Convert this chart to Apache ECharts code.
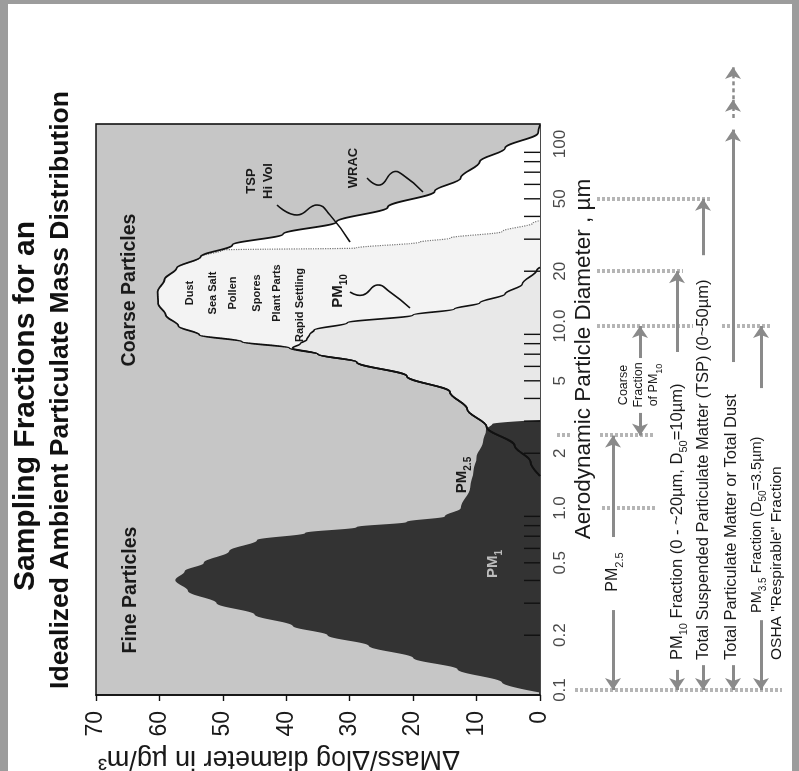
<!DOCTYPE html>
<html>
<head>
<meta charset="utf-8">
<script src="https://cdn.jsdelivr.net/npm/echarts@6/dist/echarts.min.js"></script>
<style>
html,body{margin:0;padding:0;background:#fff;overflow:hidden;width:799px;height:771px}
#wrap{position:absolute;left:0;top:0;width:771px;height:799px;transform-origin:0 0;transform:translate(0,771px) rotate(-90deg)}
#chart{width:771px;height:799px}
</style>
</head>
<body>
<div id="wrap"><div id="chart"></div></div>
<script>
// ---------------- DATA (diameter in µm, mass in µg/m3) ----------------
const diameterTicks = [0.1, 0.2, 0.5, 1.0, 2, 5, 10, 20, 50, 100];
const diameterTickLabels = ['0.1', '0.2', '0.5', '1.0', '2', '5', '10.0', '20', '50', '100'];
const minorTicks = [0.2,0.3,0.4,0.5,0.6,0.7,0.8,0.9,2,3,4,5,6,7,8,9,20,30,40,50,60,70,80,90];
const massTicks = [0, 10, 20, 30, 40, 50, 60, 70];

// fine mode (PM2.5 fraction, dark)
const fineMode = [[0.097,0],[0.11,6],[0.13,13],[0.15,20],[0.175,27],[0.2,33.5],[0.225,39],[0.26,45],[0.3,51],[0.35,55.5],[0.402,57.5],[0.45,56],[0.5,53],[0.58,49],[0.667,44.6],[0.73,37],[0.786,28.9],[0.84,21],[0.9,15],[1.0,12.5],[1.3,11],[1.6,10.5],[1.9,10],[2.3,9],[2.7,8.5],[2.9,7.5],[3.05,0]];
// coarse mode envelope
const coarseMode = [[1.5,0],[1.8,1.5],[2.2,4],[2.79,8.4],[3.5,11.5],[4.34,14.2],[5.3,21],[6.34,28.9],[7.0,35],[7.57,39.5],[8.2,47],[8.93,53.7],[10,57],[11.5,59],[13.3,60.2],[15.4,60.3],[18,59.2],[20.8,57.3],[24,53.5],[27.9,48.5],[32,40.5],[37.3,32.1],[45,24],[55,16.6],[65,12.5],[80,9.5],[95,5.5],[115,0.3],[128,0]];
// PM10 sampled fraction
const pm10Curve = [[1.5,0],[1.8,1.5],[2.2,4],[2.79,8.4],[3.5,11.5],[4.34,14.2],[5.3,21],[6.34,28.9],[7.0,35],[7.57,39],[8.0,37.8],[8.4,36.8],[9.0,36.3],[9.5,35.6],[10.4,30.4],[11.5,20],[12.4,13.5],[13.4,9.5],[15,5.5],[17,2.8],[20.3,0.5],[21,0]];
// TSP (Hi Vol) sampled fraction
const tspCurve = [[1.5,0],[1.8,1.5],[2.2,4],[2.79,8.4],[3.5,11.5],[4.34,14.2],[5.3,21],[6.34,28.9],[7.0,35],[7.57,39.5],[8.2,47],[8.93,53.7],[10,57],[11.5,59],[13.3,60.2],[15.4,60.3],[18,59.2],[20.8,57.3],[24,53.5],[26.2,50],[26.8,29],[28.9,19],[30.4,14.2],[33,6],[36.8,1.1],[38,0]];

// sampling-fraction arrows (from, to) in µm
const arrowsPM25 = [[0.275,0.1],[0.693,2.5]];
const arrowsCoarse = [[3.33,2.5],[6.67,10]];
const arrowsPM10 = [[0.129,0.1],[7.2,20]];
const arrowsTSP = [[0.137,0.1],[24.5,50]];
const arrowsDust = [[0.137,0.1],[6.34,120]];
const arrowsDustBeyond = [[139,175],[176,265]];
const arrowsPM35 = [[0.242,0.1],[4.56,10]];
const cutDiameters = [0.1, 1.0, 2.5, 2.5, 10, 10, 20, 50];

// ---------------- LAYOUT ----------------
const W = 771, H = 799;
const plot = {left:76, right:124, top:96, bottom:259};
const D_MIN = 0.0939, D_MAX = 128.8, D_MAX2 = 300;
const pxPerDecade = (W - plot.left - plot.right) / Math.log10(D_MAX / D_MIN);
const grid2 = {left:plot.left, right: W - plot.left - pxPerDecade*Math.log10(D_MAX2/D_MIN), top:550, bottom:9};
const rowY = {pm25:613, coarse:640, pm10:677, tsp:703, dust:733, pm35:761};
const cutSpans = [[575,782],[602,657],[557,570],[600,653],[597,693],[722,770],[597,683],[597,710]];

const SANS = "'Liberation Sans',Arial,Helvetica,sans-serif";

function arrowData(list, row){
  return list.map(p => ({coords:[[p[0], row],[p[1], row]]}));
}

const chart = echarts.init(document.getElementById('chart'), null, {width:W, height:H});

function lineArea(data, color, z){
  return {type:'line', xAxisIndex:0, yAxisIndex:0, data:data, smooth:0.35, smoothMonotone:'x', symbol:'none',
          lineStyle:{width:0}, areaStyle:{color:color, opacity:1, origin:'start'}, z:z, silent:true};
}
function lineOnly(data, color, width, type, z){
  return {type:'line', xAxisIndex:0, yAxisIndex:0, data:data, smooth:0.35, smoothMonotone:'x', symbol:'none',
          lineStyle:{width:width, color:color, type:type}, z:z, silent:true};
}

function richSub(size, bold, color){
  const w = bold ? 'bold' : 'normal';
  return {
    b:{fontSize:size, lineHeight:size+8, verticalAlign:'middle', fontWeight:w, fontFamily:SANS, color:color||'#1a1a1a'},
    s:{fontSize:Math.round(size*0.68), lineHeight:size+8, verticalAlign:'bottom', fontWeight:w, fontFamily:SANS, color:color||'#1a1a1a'}
  };
}

function txt(x, y, text, font, opts){
  opts = opts || {};
  return {type:'text', x:x, y:y, rotation:opts.rot||0, z:100,
    style:{text:text, font:font, fill:opts.fill||'#1a1a1a', align:opts.align||'center', verticalAlign:'middle',
           rich:opts.rich||undefined}};
}

const graphics = [
  // scan border
  {type:'rect', shape:{x:0,y:0,width:W,height:8}, style:{fill:'#9c9c9c'}, z:100},
  {type:'rect', shape:{x:0,y:792,width:W,height:7}, style:{fill:'#9c9c9c'}, z:100},
  {type:'rect', shape:{x:767,y:0,width:4,height:H}, style:{fill:'#9c9c9c'}, z:100},
  // title
  txt(365, 26, 'Sampling Fractions for an', 'bold 30px ' + SANS, {fill:'#111'}),
  txt(381, 61, 'Idealized Ambient Particulate Mass Distribution', 'bold 26.5px ' + SANS, {fill:'#111'}),
  // axis titles
  txt(13, 279, 'ΔMass/Δlog diameter in µg/m³', '27px ' + SANS, {rot:Math.PI/2}),
  txt(412, 584, 'Aerodynamic Particle Diameter , µm', '22.5px ' + SANS),
  // in-plot labels
  txt(181, 131, 'Fine Particles', 'bold 19.5px ' + SANS),
  txt(481, 130, 'Coarse Particles', 'bold 19.5px ' + SANS),
  txt(590, 251, 'TSP', 'bold 13px ' + SANS),
  txt(590, 268, 'Hi Vol', 'bold 13px ' + SANS),
  txt(603, 353, 'WRAC', 'bold 13px ' + SANS),
  txt(478, 190, 'Dust', 'bold 11px ' + SANS),
  txt(478, 213, 'Sea Salt', 'bold 11px ' + SANS),
  txt(478, 233, 'Pollen', 'bold 11px ' + SANS),
  txt(478, 257, 'Spores', 'bold 11px ' + SANS),
  txt(478, 277, 'Plant Parts', 'bold 11px ' + SANS),
  txt(466, 300, 'Rapid Settling', 'bold 11px ' + SANS),
  txt(480, 338, '{b|PM}{s|10}', 'bold 15px ' + SANS, {rich:richSub(15, true)}),
  txt(296, 462, '{b|PM}{s|2.5}', 'bold 15px ' + SANS, {rich:richSub(15, true)}),
  txt(207, 493, '{b|PM}{s|1}', 'bold 15px ' + SANS, {fill:'#bdbdbd', rich:richSub(15, true, '#bdbdbd')}),
  // leader squiggles
  {type:'polyline', z:100, shape:{points:[[566,277],[556,297],[566,317],[556,330],[529,350]], smooth:0.5}, style:{stroke:'#111', lineWidth:1.6, fill:null}},
  {type:'polyline', z:100, shape:{points:[[479,350],[476,363],[486,377],[479,390],[463,410]], smooth:0.5}, style:{stroke:'#111', lineWidth:1.6, fill:null}},
  {type:'polyline', z:100, shape:{points:[[593,367],[586,380],[599,393],[596,403],[579,423]], smooth:0.5}, style:{stroke:'#111', lineWidth:1.6, fill:null}},
  // annotation texts
  txt(199, rowY.pm25, '{b|PM}{s|2.5}', '16px ' + SANS, {rich:richSub(16, false)}),
  txt(386, 624, 'Coarse', '12.5px ' + SANS),
  txt(386, 639, 'Fraction', '12.5px ' + SANS),
  txt(386, 654, '{b|of PM}{s|10}', '12.5px ' + SANS, {rich:richSub(12.5, false)}),
  txt(111, rowY.pm10, '{b|PM}{s|10}{b| Fraction (0 - ~20µm, D}{s|50}{b|=10µm)}', '16.5px ' + SANS, {align:'left', rich:richSub(16.5, false)}),
  txt(111, rowY.tsp, 'Total Suspended Particulate Matter (TSP) (0~50µm)', '16.5px ' + SANS, {align:'left'}),
  txt(111, 731, 'Total Particulate Matter or Total Dust', '16.5px ' + SANS, {align:'left'}),
  txt(158, 757, '{b|PM}{s|3.5}{b| Fraction (D}{s|50}{b|=3.5µm)}', '14.5px ' + SANS, {align:'left', rich:richSub(14.5, false)}),
  txt(111, 777, 'OSHA "Respirable" Fraction', '15.5px ' + SANS, {align:'left'})
];

const arrowStyle = {color:'#8a8a8a', width:3, opacity:1};

const option = {
  animation:false,
  backgroundColor:'#ffffff',
  grid:[
    {left:plot.left, right:plot.right, top:plot.top, bottom:plot.bottom, show:true, backgroundColor:'#c6c6c6', borderColor:'#111', borderWidth:1.6},
    {left:grid2.left, right:grid2.right, top:grid2.top, bottom:grid2.bottom, show:false}
  ],
  xAxis:[
    {type:'log', logBase:10, gridIndex:0, min:D_MIN, max:D_MAX, axisLine:{show:false}, axisTick:{show:false}, axisLabel:{show:false}, splitLine:{show:false}},
    {type:'log', logBase:10, gridIndex:1, min:D_MIN, max:D_MAX2, show:false}
  ],
  yAxis:[
    {type:'value', gridIndex:0, min:0, max:70, interval:10,
     axisLine:{show:true, lineStyle:{color:'#111', width:1.6}},
     axisTick:{show:true, length:6, lineStyle:{color:'#111', width:1.4}},
     axisLabel:{fontSize:23, color:'#1a1a1a', margin:16, fontFamily:SANS},
     splitLine:{show:false}},
    {type:'value', gridIndex:1, min:550, max:790, inverse:true, show:false}
  ],
  graphic:{elements:graphics},
  series:[
    lineArea(coarseMode, '#ffffff', 2),
    lineArea(tspCurve, '#f3f3f3', 2),
    lineArea(pm10Curve, '#e8e8e8', 2),
    lineArea(fineMode, '#333333', 2),
    lineOnly(tspCurve, '#777777', 1.2, 'dotted', 3),
    lineOnly(pm10Curve, '#111111', 1.7, 'solid', 3),
    lineOnly(coarseMode, '#111111', 1.8, 'solid', 3),
    {type:'custom', xAxisIndex:0, yAxisIndex:0, data:minorTicks.map(v=>[v,0]), silent:true, z:4,
     renderItem:function(params, api){
       const p = api.coord([api.value(0), 0]);
       return {type:'line', shape:{x1:p[0], y1:p[1], x2:p[0], y2:p[1]-16}, style:{stroke:'#111', lineWidth:1.4}};
     }},
    {type:'scatter', xAxisIndex:0, yAxisIndex:0, data:diameterTicks.map(v=>[v,0]), symbolSize:0, silent:true, clip:false,
     label:{show:true, position:'bottom', distance:12, color:'#1a1a1a', fontSize:17, fontFamily:SANS,
            formatter:function(p){return diameterTickLabels[p.dataIndex];}}},
    // cut-point dashed lines
    {type:'lines', coordinateSystem:'cartesian2d', xAxisIndex:1, yAxisIndex:1, silent:true, z:3,
     symbol:['none','none'], lineStyle:{color:'#b5b5b5', width:4, type:[3,2], opacity:1},
     data:cutDiameters.map((d,i)=>({coords:[[d, cutSpans[i][0]],[d, cutSpans[i][1]]]}))},
    // arrows
    {type:'lines', coordinateSystem:'cartesian2d', xAxisIndex:1, yAxisIndex:1, silent:true, z:4,
     symbol:['none','arrow'], symbolSize:12, lineStyle:arrowStyle,
     data:[].concat(arrowData(arrowsPM25,rowY.pm25), arrowData(arrowsCoarse,rowY.coarse), arrowData(arrowsPM10,rowY.pm10),
                    arrowData(arrowsTSP,rowY.tsp), arrowData(arrowsDust,rowY.dust), arrowData(arrowsPM35,rowY.pm35))},
    {type:'lines', coordinateSystem:'cartesian2d', xAxisIndex:1, yAxisIndex:1, silent:true, z:4,
     symbol:['none','arrow'], symbolSize:12, lineStyle:{color:'#8a8a8a', width:2.5, type:[4,3], opacity:1},
     data:arrowData(arrowsDustBeyond, rowY.dust)}
  ]
};
chart.setOption(option);
</script>
</body>
</html>
